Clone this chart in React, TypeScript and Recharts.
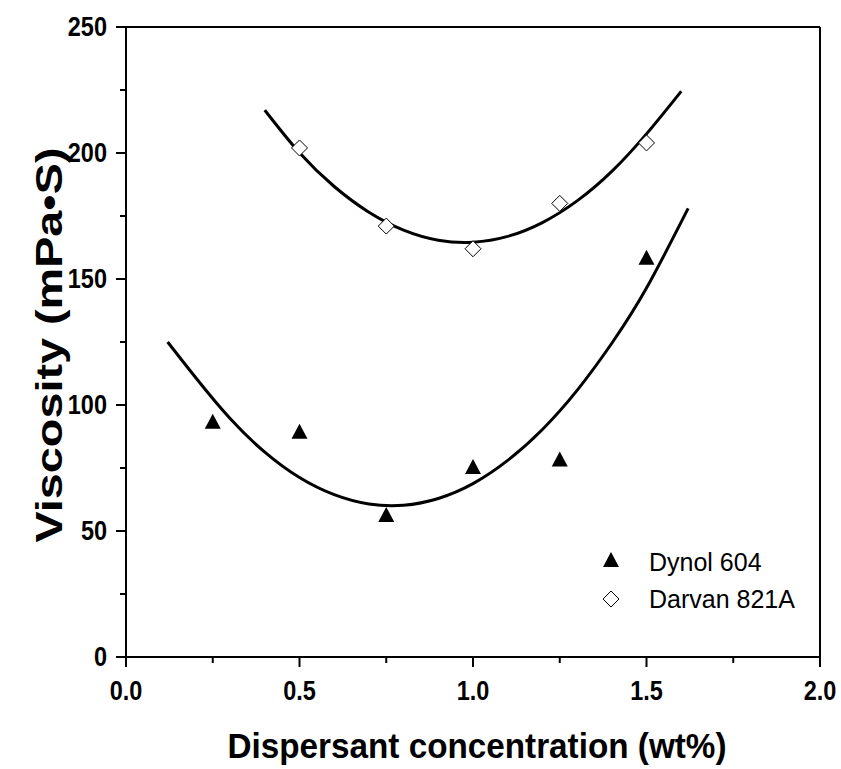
import { ComposedChart, Line, Scatter, XAxis, YAxis, ReferenceLine } from "recharts";

// measured points (wt%, mPa·S)
const dynolX = [0.25, 0.5, 0.75, 1.0, 1.25, 1.5];
const dynolY = [93, 89, 56, 75, 78, 158];
const darvanX = [0.5, 0.75, 1.0, 1.25, 1.5];
const darvanY = [202, 171, 162, 180, 204];

// fitted curves
const dynolFitX = [0.12, 0.2, 0.3, 0.4, 0.5, 0.6, 0.7, 0.8, 0.9, 1.0, 1.1, 1.2, 1.3, 1.4, 1.5, 1.62];
const dynolFitY = [125, 111, 94.6, 81.3, 71.2, 64.4, 60.7, 60.2, 62.9, 68.8, 78, 90.3, 105.8, 124.5, 146.4, 178];
const darvanFitX = [0.4, 0.5, 0.6, 0.7, 0.8, 0.9, 1.0, 1.1, 1.2, 1.3, 1.4, 1.5, 1.6];
const darvanFitY = [217, 200.1, 186.7, 176.5, 169.4, 165.4, 164.6, 166.9, 172.4, 181, 192.7, 207.6, 224.5];

const xTicks = [0, 0.25, 0.5, 0.75, 1.0, 1.25, 1.5, 1.75, 2.0];
const yTicks = [0, 25, 50, 75, 100, 125, 150, 175, 200, 225, 250];

const FONT = "'Liberation Sans', Arial, sans-serif";
const tickText = { fontSize: 27, fontWeight: 700, fontFamily: FONT, fill: "#000" };

const zip = (xs: number[], ys: number[]) => xs.map((x, i) => ({ x, y: ys[i] }));

function XTick({ x, y, payload }: any) {
  const major = Math.abs(payload.value * 2 - Math.round(payload.value * 2)) < 1e-9;
  return (
    <g>
      <line x1={x} x2={x} y1={y} y2={y + (major ? 10 : 6)} stroke="#000" strokeWidth={2} />
      {major && (
        <text transform={`translate(${x},${y + 43}) scale(0.87,1)`} textAnchor="middle" style={tickText}>
          {payload.value.toFixed(1)}
        </text>
      )}
    </g>
  );
}

function YTick({ x, y, payload }: any) {
  const major = payload.value % 50 === 0;
  return (
    <g>
      <line x1={x - (major ? 10 : 6)} x2={x} y1={y} y2={y} stroke="#000" strokeWidth={2} />
      {major && (
        <text transform={`translate(${x - 19},${y + 9}) scale(0.87,1)`} textAnchor="end" style={tickText}>
          {payload.value}
        </text>
      )}
    </g>
  );
}

function Triangle({ cx, cy }: any) {
  return <polygon points={`${cx},${cy - 9} ${cx - 8},${cy + 6} ${cx + 8},${cy + 6}`} fill="#000" />;
}

function Diamond({ cx, cy }: any) {
  return (
    <polygon
      points={`${cx},${cy - 8} ${cx + 8},${cy} ${cx},${cy + 8} ${cx - 8},${cy}`}
      fill="#fff"
      stroke="#000"
      strokeWidth={1}
    />
  );
}

export default function App() {
  return (
    <div style={{ position: "absolute", left: 0, top: 0, width: 841, height: 769, background: "#fff" }}>
      <ComposedChart width={841} height={769} margin={{ top: 27, right: 21, left: 0, bottom: 0 }}>
        <XAxis
          dataKey="x"
          type="number"
          domain={[0, 2]}
          ticks={xTicks}
          height={112}
          tickSize={0}
          tickMargin={0}
          tick={<XTick />}
          tickLine={false}
          axisLine={{ stroke: "#000", strokeWidth: 2 }}
          allowDataOverflow
        />
        <YAxis
          type="number"
          domain={[0, 250]}
          ticks={yTicks}
          width={126}
          tickSize={0}
          tickMargin={0}
          tick={<YTick />}
          tickLine={false}
          axisLine={{ stroke: "#000", strokeWidth: 2 }}
          allowDataOverflow
        />
        <ReferenceLine y={250} stroke="#000" strokeWidth={2} />
        <ReferenceLine x={2} stroke="#000" strokeWidth={2} />
        <Line
          data={zip(darvanFitX, darvanFitY)}
          dataKey="y"
          type="natural"
          dot={false}
          activeDot={false}
          stroke="#000"
          strokeWidth={3}
          isAnimationActive={false}
        />
        <Line
          data={zip(dynolFitX, dynolFitY)}
          dataKey="y"
          type="natural"
          dot={false}
          activeDot={false}
          stroke="#000"
          strokeWidth={3}
          isAnimationActive={false}
        />
        <Scatter data={zip(dynolX, dynolY)} dataKey="y" shape={<Triangle />} isAnimationActive={false} />
        <Scatter data={zip(darvanX, darvanY)} dataKey="y" shape={<Diamond />} isAnimationActive={false} />
      </ComposedChart>
      <svg width={841} height={769} style={{ position: "absolute", left: 0, top: 0, pointerEvents: "none" }}>
        <text
          transform="translate(62,345) rotate(-90)"
          textAnchor="middle"
          fontSize={37}
          fontWeight="bold"
          fontFamily={FONT}
          textLength={395}
          lengthAdjust="spacingAndGlyphs"
        >
          Viscosity (mPa•S)
        </text>
        <text
          x={477}
          y={758}
          textAnchor="middle"
          fontSize={35}
          fontWeight="bold"
          fontFamily={FONT}
          textLength={499}
          lengthAdjust="spacingAndGlyphs"
        >
          Dispersant concentration (wt%)
        </text>
        <Triangle cx={611} cy={561} />
        <text x={649} y={571} fontSize={25} fontFamily={FONT}>
          Dynol 604
        </text>
        <Diamond cx={611} cy={599} />
        <text x={649} y={608} fontSize={25} fontFamily={FONT}>
          Darvan 821A
        </text>
      </svg>
    </div>
  );
}
